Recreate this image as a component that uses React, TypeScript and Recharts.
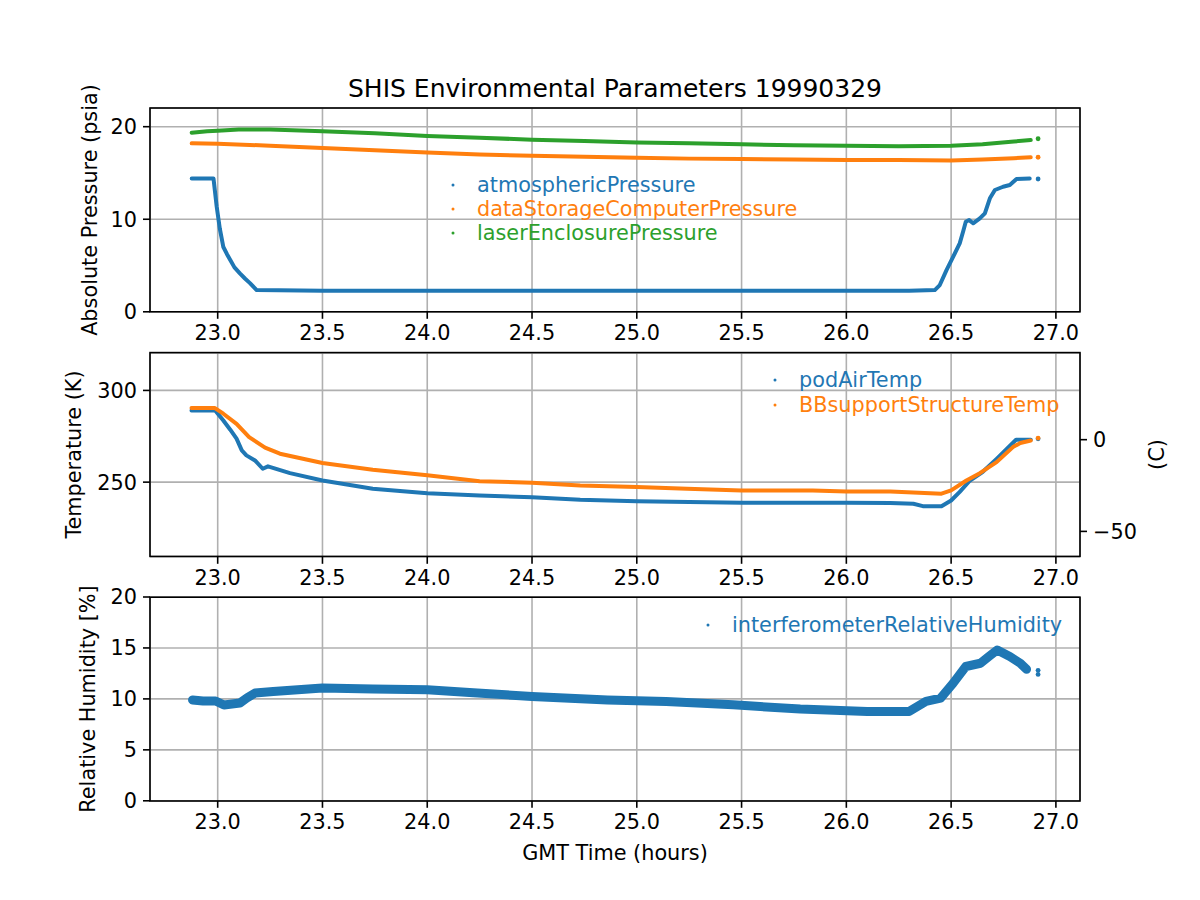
import { CartesianGrid, ComposedChart, Line, XAxis, YAxis } from 'recharts';

const FONT = '"DejaVu Sans", Verdana, sans-serif';
const BLUE = '#1f77b4';
const ORANGE = '#ff7f0e';
const GREEN = '#2ca02c';
const GRID = '#b0b0b0';

// shared time axis (hours GMT)
const X_DOMAIN = [22.677, 27.115];
const X_TICKS = [23, 23.5, 24, 24.5, 25, 25.5, 26, 26.5, 27];
const TAIL_T = 26.915;

// panel 1: absolute pressure (psia)
const ATM_T = [22.876, 22.98, 22.995, 23.01, 23.027, 23.045, 23.06, 23.08, 23.106, 23.13, 23.154, 23.186, 23.5, 24.0, 24.5, 25.0, 25.5, 26.0, 26.3, 26.422, 26.446, 26.478, 26.51, 26.541, 26.557, 26.57, 26.586, 26.605, 26.637, 26.661, 26.685, 26.709, 26.748, 26.78, 26.812, 26.875];
const ATM_V = [14.4, 14.4, 11.4, 9.0, 7.0, 6.2, 5.6, 4.8, 4.15, 3.6, 3.1, 2.35, 2.27, 2.27, 2.27, 2.27, 2.27, 2.27, 2.27, 2.35, 2.89, 4.5, 5.95, 7.39, 8.65, 9.73, 9.91, 9.56, 10.1, 10.64, 12.26, 13.16, 13.51, 13.7, 14.35, 14.4];
const ATM_TAIL = 14.35;

const DS_T = [22.876, 23.0, 23.25, 23.5, 23.75, 24.0, 24.25, 24.5, 24.75, 25.0, 25.25, 25.5, 25.75, 26.0, 26.25, 26.5, 26.65, 26.8, 26.88];
const DS_V = [18.2, 18.15, 17.95, 17.7, 17.45, 17.2, 17.0, 16.85, 16.75, 16.65, 16.55, 16.5, 16.45, 16.4, 16.4, 16.35, 16.45, 16.6, 16.7];
const DS_TAIL = 16.7;

const LE_T = [22.876, 22.95, 23.0, 23.1, 23.25, 23.5, 23.75, 24.0, 24.25, 24.5, 24.75, 25.0, 25.25, 25.5, 25.75, 26.0, 26.25, 26.5, 26.65, 26.8, 26.88];
const LE_V = [19.35, 19.5, 19.57, 19.7, 19.7, 19.5, 19.3, 19.0, 18.8, 18.6, 18.45, 18.3, 18.2, 18.1, 18.0, 17.95, 17.9, 17.95, 18.1, 18.4, 18.55];
const LE_TAIL = 18.7;

const P_DOMAIN = [0, 22.02];
const P_TICKS = [0, 10, 20];

// panel 2: temperature (K)
const POD_T = [22.875, 22.987, 23.027, 23.06, 23.09, 23.115, 23.137, 23.178, 23.215, 23.24, 23.345, 23.5, 23.74, 24.0, 24.25, 24.5, 24.73, 25.0, 25.5, 26.0, 26.21, 26.32, 26.365, 26.454, 26.5, 26.54, 26.59, 26.65, 26.717, 26.81, 26.88];
const POD_V = [289.1, 289.2, 283.6, 278.6, 273.7, 267.3, 264.6, 261.8, 257.3, 258.6, 254.9, 250.9, 246.4, 244.0, 242.7, 241.8, 240.4, 239.6, 238.8, 238.8, 238.6, 238.2, 236.9, 236.9, 240.0, 244.6, 250.9, 255.5, 262.7, 273.1, 273.1];
const POD_TAIL = 273.6;

const BB_T = [22.875, 22.987, 23.027, 23.09, 23.15, 23.226, 23.297, 23.5, 23.74, 24.0, 24.25, 24.5, 24.73, 25.0, 25.24, 25.5, 25.84, 26.0, 26.21, 26.454, 26.5, 26.573, 26.637, 26.717, 26.795, 26.83, 26.88];
const BB_V = [290.4, 290.4, 287.3, 281.8, 274.5, 268.8, 265.5, 260.4, 256.8, 253.7, 250.5, 249.7, 248.2, 247.3, 246.4, 245.5, 245.5, 244.9, 244.9, 243.7, 245.5, 250.9, 254.9, 260.9, 269.1, 271.3, 272.7];
const BB_TAIL = 274.0;

const K_DOMAIN = [209.3, 320.4];
const K_TICKS = [250, 300];
const C_DOMAIN = [209.3 - 273.15, 320.4 - 273.15];
const C_TICKS = [-50, 0];

// panel 3: relative humidity (%)
const HUM_T = [22.88, 22.93, 22.99, 23.03, 23.106, 23.14, 23.178, 23.265, 23.5, 23.74, 24.0, 24.22, 24.5, 24.86, 25.14, 25.46, 25.78, 26.1, 26.3, 26.38, 26.45, 26.51, 26.57, 26.64, 26.68, 26.72, 26.78, 26.83, 26.86];
const HUM_V = [9.9, 9.8, 9.8, 9.4, 9.6, 10.1, 10.57, 10.73, 11.06, 10.96, 10.9, 10.6, 10.24, 9.9, 9.75, 9.42, 9.0, 8.77, 8.77, 9.75, 10.08, 11.55, 13.18, 13.5, 14.16, 14.8, 14.16, 13.5, 12.9];
const HUM_TAIL = [12.8, 12.4];

const H_DOMAIN = [0, 20];
const H_TICKS = [0, 5, 10, 15, 20];

// layout (px)
const PLOT_LEFT = 150;
const PLOT_W = 930;
const PANEL_H = 203.8;
const PANEL_TOPS = [108, 352.6, 597.2];
const PAD_TOP = 20;
const AXIS_H = 50;
const FS = 20.8;

const zip = (t: number[], v: number[]) => t.map((x, i) => ({ t: x, v: v[i] }));
const tail = (v: number) => [{ t: TAIL_T, v }];
const minus = (v: number) => (v < 0 ? `\u2212${Math.abs(v)}` : String(v));

const TICK = { fontSize: FS, fill: '#000', fontFamily: FONT };
const TICK_LINE = { stroke: '#000', strokeWidth: 1.6 };

function xAxis() {
    return (
        <XAxis
            dataKey="t"
            type="number"
            domain={X_DOMAIN}
            ticks={X_TICKS}
            allowDataOverflow
            interval={0}
            tickFormatter={(v) => Number(v).toFixed(1)}
            tick={TICK}
            tickLine={TICK_LINE}
            tickSize={7}
            tickMargin={6}
            axisLine={false}
            height={AXIS_H}
        />
    );
}

function series(data: { t: number; v: number }[], color: string, width = 4, yAxisId?: string) {
    return (
        <Line
            data={data}
            dataKey="v"
            yAxisId={yAxisId}
            type="linear"
            stroke={color}
            strokeWidth={width}
            strokeLinejoin="round"
            strokeLinecap="round"
            dot={false}
            isAnimationActive={false}
        />
    );
}

function tailDot(data: { t: number; v: number }[], color: string, yAxisId?: string) {
    return (
        <Line
            data={data}
            dataKey="v"
            yAxisId={yAxisId}
            stroke="none"
            dot={{ r: 2.4, fill: color, stroke: 'none' }}
            isAnimationActive={false}
        />
    );
}

const chartBox = (i: number): React.CSSProperties => ({
    position: 'absolute',
    left: 0,
    top: PANEL_TOPS[i] - PAD_TOP,
});

function Overlay() {
    const legend = (x: number, y: number, rows: { label: string; color: string }[], gap: number) =>
        rows.map((r, i) => (
            <g key={r.label}>
                <circle cx={x} cy={y + i * gap} r={1.5} fill={r.color} />
                <text x={x + 24} y={y + i * gap} fill={r.color} fontSize={FS} dominantBaseline="central">
                    {r.label}
                </text>
            </g>
        ));
    const vLabel = (x: number, y: number, text: string) => (
        <text
            x={x}
            y={y}
            textAnchor="middle"
            dominantBaseline="central"
            transform={`rotate(-90, ${x}, ${y})`}
            fontSize={FS}
        >
            {text}
        </text>
    );
    return (
        <svg
            width={1200}
            height={900}
            style={{ position: 'absolute', left: 0, top: 0, pointerEvents: 'none' }}
            fontFamily={FONT}
        >
            {PANEL_TOPS.map((top) => (
                <rect
                    key={top}
                    x={PLOT_LEFT}
                    y={top}
                    width={PLOT_W}
                    height={PANEL_H}
                    fill="none"
                    stroke="#000"
                    strokeWidth={1.6}
                />
            ))}
            <text x={615} y={97} textAnchor="middle" fontSize={25}>
                SHIS Environmental Parameters 19990329
            </text>
            <text x={615} y={860} textAnchor="middle" fontSize={FS}>
                GMT Time (hours)
            </text>
            {vLabel(90, 210, 'Absolute Pressure (psia)')}
            {vLabel(74, 454.5, 'Temperature (K)')}
            {vLabel(1157, 454.5, '(C)')}
            {vLabel(88, 699, 'Relative Humidity [%]')}
            {legend(453, 185, [
                { label: 'atmosphericPressure', color: BLUE },
                { label: 'dataStorageComputerPressure', color: ORANGE },
                { label: 'laserEnclosurePressure', color: GREEN },
            ], 24)}
            {legend(775, 380, [
                { label: 'podAirTemp', color: BLUE },
                { label: 'BBsupportStructureTemp', color: ORANGE },
            ], 25)}
            {legend(708, 625, [{ label: 'interferometerRelativeHumidity', color: BLUE }], 24)}
        </svg>
    );
}

export default function App() {
    const h = PANEL_H + PAD_TOP + AXIS_H;
    return (
        <div
            style={{
                position: 'relative',
                width: 1200,
                height: 900,
                margin: -8,
                background: '#fff',
                fontFamily: FONT,
            }}
        >
            <div style={chartBox(0)}>
                <ComposedChart width={1200} height={h} margin={{ top: PAD_TOP, right: 120, bottom: 0, left: 90 }}>
                    <CartesianGrid stroke={GRID} strokeWidth={1.6} />
                    {xAxis()}
                    <YAxis
                        type="number"
                        domain={P_DOMAIN}
                        ticks={P_TICKS}
                        allowDataOverflow
                        interval={0}
                        tick={TICK}
                        tickLine={TICK_LINE}
                        tickSize={7}
                        tickMargin={6}
                        axisLine={false}
                        width={60}
                    />
                    {series(zip(ATM_T, ATM_V), BLUE)}
                    {series(zip(DS_T, DS_V), ORANGE)}
                    {series(zip(LE_T, LE_V), GREEN)}
                    {tailDot(tail(ATM_TAIL), BLUE)}
                    {tailDot(tail(DS_TAIL), ORANGE)}
                    {tailDot(tail(LE_TAIL), GREEN)}
                </ComposedChart>
            </div>

            <div style={chartBox(1)}>
                <ComposedChart width={1200} height={h} margin={{ top: PAD_TOP, right: 60, bottom: 0, left: 90 }}>
                    <CartesianGrid stroke={GRID} strokeWidth={1.6} yAxisId="k" />
                    {xAxis()}
                    <YAxis
                        yAxisId="k"
                        type="number"
                        domain={K_DOMAIN}
                        ticks={K_TICKS}
                        allowDataOverflow
                        interval={0}
                        tick={TICK}
                        tickLine={TICK_LINE}
                        tickSize={7}
                        tickMargin={6}
                        axisLine={false}
                        width={60}
                    />
                    <YAxis
                        yAxisId="c"
                        orientation="right"
                        type="number"
                        domain={C_DOMAIN}
                        ticks={C_TICKS}
                        allowDataOverflow
                        interval={0}
                        tickFormatter={minus}
                        tick={TICK}
                        tickLine={TICK_LINE}
                        tickSize={7}
                        tickMargin={6}
                        axisLine={false}
                        width={60}
                    />
                    {series(zip(POD_T, POD_V), BLUE, 4, 'k')}
                    {series(zip(BB_T, BB_V), ORANGE, 4, 'k')}
                    {tailDot(tail(POD_TAIL), BLUE, 'k')}
                    {tailDot(tail(BB_TAIL), ORANGE, 'k')}
                </ComposedChart>
            </div>

            <div style={chartBox(2)}>
                <ComposedChart width={1200} height={h} margin={{ top: PAD_TOP, right: 120, bottom: 0, left: 90 }}>
                    <CartesianGrid stroke={GRID} strokeWidth={1.6} />
                    {xAxis()}
                    <YAxis
                        type="number"
                        domain={H_DOMAIN}
                        ticks={H_TICKS}
                        allowDataOverflow
                        interval={0}
                        tick={TICK}
                        tickLine={TICK_LINE}
                        tickSize={7}
                        tickMargin={6}
                        axisLine={false}
                        width={60}
                    />
                    {series(zip(HUM_T, HUM_V), BLUE, 9)}
                    {tailDot(tail(HUM_TAIL[0]), BLUE)}
                    {tailDot(tail(HUM_TAIL[1]), BLUE)}
                </ComposedChart>
            </div>

            <Overlay />
        </div>
    );
}
